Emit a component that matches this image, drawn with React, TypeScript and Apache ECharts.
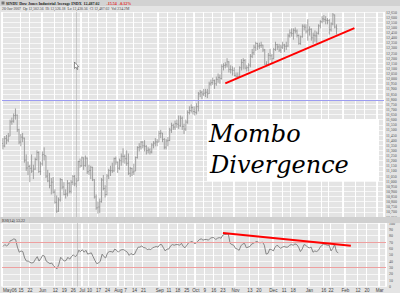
import React, { useEffect, useRef } from "react";
import * as echarts from "echarts";

// ---- calendar of the category axis (trading days) ----
const axisStartUTC = [2006, 4, 1];
const axisEndUTC = [2007, 2, 6];
const marketHolidays = [
  "2006-05-29", "2006-07-04", "2006-09-04", "2006-11-23", "2006-12-25",
  "2007-01-01", "2007-01-02", "2007-01-15", "2007-02-19",
];
const monthNames = ["Jan", "Feb", "Mar", "Apr", "May", "Jun", "Jul", "Aug", "Sep", "Oct", "Nov", "Dec"];
const firstMonthLabel = "May06";

// ---- daily bars: [open, high, low, close] ----
const ohlc: number[][] = [
  [11367, 11420, 11310, 11343], [11343, 11440, 11330, 11416], [11416, 11450, 11360, 11400], [11400, 11470, 11380, 11439],
  [11439, 11600, 11439, 11578], [11578, 11620, 11550, 11585], [11585, 11660, 11570, 11640], [11640, 11709, 11600, 11643],
  [11643, 11650, 11480, 11501], [11501, 11510, 11360, 11381], [11381, 11460, 11340, 11429], [11429, 11470, 11380, 11420],
  [11420, 11425, 11180, 11205], [11205, 11260, 11100, 11128], [11128, 11190, 11060, 11144], [11144, 11160, 10990, 11124],
  [11124, 11260, 11080, 11097], [11097, 11160, 11020, 11117], [11117, 11230, 11110, 11211], [11211, 11300, 11200, 11279],
  [11279, 11290, 11080, 11094], [11094, 11190, 11060, 11168],
  [11168, 11290, 11150, 11260], [11260, 11330, 11200, 11248], [11248, 11250, 11030, 11049], [11049, 11110, 10990, 11002],
  [11002, 11080, 10930, 10957], [10957, 11030, 10870, 10990], [10990, 11040, 10880, 10892], [10892, 10920, 10780, 10793],
  [10793, 10860, 10690, 10706], [10706, 10840, 10700, 10817], [10817, 11030, 10800, 11015], [11015, 11020, 10920, 10942],
  [10942, 10990, 10860, 10870], [10870, 10920, 10830, 10875], [10875, 11010, 10850, 10979], [10979, 10990, 10880, 10900],
  [10900, 11010, 10880, 10989], [10989, 11060, 10960, 11045], [11045, 11060, 10950, 10974], [10974, 11030, 10940, 11002],
  [11002, 11200, 11000, 11191], [11191, 11220, 11130, 11150],
  [11150, 11240, 11140, 11228], [11228, 11230, 11110, 11151], [11151, 11250, 11140, 11225], [11225, 11230, 11070, 11091],
  [11091, 11160, 11060, 11104], [11104, 11150, 11020, 11135], [11135, 11140, 11000, 11013], [11013, 11020, 10830, 10846],
  [10846, 10870, 10720, 10739], [10739, 10800, 10683, 10747], [10747, 10830, 10690, 10799], [10799, 11030, 10790, 11011],
  [11011, 11060, 10910, 10928], [10928, 10960, 10840, 10868], [10868, 11070, 10860, 11051], [11051, 11120, 11020, 11103],
  [11103, 11150, 11050, 11102], [11102, 11180, 11080, 11100], [11100, 11230, 11090, 11220], [11220, 11240, 11160, 11186],
  [11186, 11190, 11080, 11126], [11126, 11220, 11110, 11200], [11200, 11270, 11150, 11243], [11243, 11320, 11180, 11240],
  [11240, 11260, 11170, 11219], [11219, 11300, 11150, 11174], [11174, 11270, 11060, 11076], [11076, 11140, 11040, 11124],
  [11124, 11130, 11050, 11088], [11088, 11170, 11060, 11098], [11098, 11240, 11098, 11230], [11230, 11340, 11220, 11327],
  [11327, 11370, 11290, 11335], [11335, 11390, 11310, 11381], [11381, 11390, 11320, 11345], [11345, 11400, 11290, 11340],
  [11340, 11350, 11260, 11298], [11298, 11330, 11270, 11304], [11304, 11320, 11260, 11284], [11284, 11370, 11270, 11352],
  [11352, 11390, 11320, 11370], [11370, 11420, 11340, 11383], [11383, 11410, 11340, 11381],
  [11381, 11490, 11381, 11464], [11464, 11500, 11420, 11469], [11469, 11470, 11380, 11406], [11406, 11420, 11310, 11331],
  [11331, 11410, 11310, 11392], [11392, 11430, 11340, 11397], [11397, 11520, 11390, 11498], [11498, 11570, 11470, 11543],
  [11543, 11560, 11500, 11527], [11527, 11590, 11500, 11561], [11561, 11600, 11520, 11555], [11555, 11640, 11510, 11540],
  [11540, 11640, 11530, 11613], [11613, 11630, 11500, 11534], [11534, 11560, 11460, 11508], [11508, 11600, 11490, 11576],
  [11576, 11690, 11560, 11669], [11669, 11730, 11650, 11689], [11689, 11750, 11670, 11718], [11718, 11730, 11650, 11679],
  [11679, 11730, 11640, 11670], [11670, 11760, 11650, 11727], [11727, 11870, 11680, 11851], [11851, 11890, 11820, 11867],
  [11867, 11880, 11800, 11850], [11850, 11900, 11830, 11858], [11858, 11900, 11820, 11867], [11867, 11900, 11810, 11852],
  [11852, 11970, 11850, 11948], [11948, 11990, 11930, 11961], [11961, 12010, 11940, 11981], [11981, 11990, 11900, 11950],
  [11950, 12020, 11930, 11993], [11993, 12050, 11960, 12012], [12012, 12040, 11950, 12002], [12002, 12140, 11990, 12117],
  [12117, 12150, 12080, 12128], [12128, 12160, 12100, 12135], [12135, 12200, 12110, 12164], [12164, 12170, 12060, 12090],
  [12090, 12130, 12050, 12086], [12086, 12120, 12030, 12081],
  [12081, 12110, 12020, 12031], [12031, 12060, 12010, 12019], [12019, 12060, 12012, 12020], [12020, 12120, 12015, 12106],
  [12106, 12190, 12080, 12157], [12157, 12200, 12090, 12177], [12177, 12190, 12090, 12103], [12103, 12130, 12070, 12108],
  [12108, 12150, 12070, 12132], [12132, 12240, 12110, 12218], [12218, 12290, 12200, 12252], [12252, 12330, 12230, 12306],
  [12306, 12360, 12270, 12343], [12343, 12350, 12280, 12317], [12317, 12350, 12290, 12322], [12322, 12360, 12300, 12327],
  [12327, 12330, 12260, 12280], [12280, 12290, 12135, 12140], [12140, 12170, 12128, 12136], [12136, 12250, 12130, 12227],
  [12227, 12290, 12180, 12222],
  [12222, 12240, 12150, 12194], [12194, 12300, 12190, 12284], [12284, 12360, 12270, 12332], [12332, 12340, 12280, 12309],
  [12309, 12340, 12260, 12278], [12278, 12330, 12250, 12307], [12307, 12360, 12290, 12328], [12328, 12340, 12260, 12316],
  [12316, 12360, 12280, 12318], [12318, 12440, 12310, 12417], [12417, 12480, 12400, 12446], [12446, 12490, 12410, 12441],
  [12441, 12490, 12380, 12471], [12471, 12500, 12440, 12464], [12464, 12480, 12400, 12421], [12421, 12430, 12330, 12343],
  [12343, 12420, 12330, 12408], [12408, 12530, 12400, 12511], [12511, 12530, 12470, 12502], [12502, 12530, 12440, 12463],
  [12463, 12580, 12370, 12475], [12475, 12510, 12420, 12481], [12481, 12490, 12370, 12398], [12398, 12450, 12340, 12423],
  [12423, 12470, 12360, 12417], [12417, 12460, 12350, 12442], [12442, 12530, 12430, 12515], [12515, 12570, 12490, 12556],
  [12556, 12610, 12540, 12583], [12583, 12620, 12550, 12577], [12577, 12610, 12530, 12568], [12568, 12590, 12530, 12566],
  [12566, 12580, 12430, 12477], [12477, 12550, 12460, 12534], [12534, 12640, 12520, 12622], [12622, 12625, 12490, 12503],
  [12503, 12530, 12430, 12487],
];

// ---- RSI(14) readings ----
const rsi14: number[] = [
  63, 66, 64, 66, 72, 73, 75, 74, 62, 54, 56, 55, 45, 40, 40, 38, 37, 38, 43, 47,
  40, 44, 49, 48, 40, 38, 36, 37, 33, 30, 28, 35, 46, 43, 40, 41, 46, 43, 47, 50,
  47, 49, 57, 55, 58, 54, 57, 51, 52, 53, 47, 41, 36, 37, 40, 51, 47, 45, 53, 55,
  55, 54, 59, 57, 54, 57, 58, 58, 56, 54, 49, 52, 50, 51, 57, 62, 62, 64, 61, 61,
  58, 59, 58, 61, 62, 63, 62, 66, 66, 61, 56, 59, 59, 64, 66, 65, 66, 66, 65, 68,
  63, 61, 65, 69, 70, 71, 68, 68, 71, 74, 75, 73, 74, 74, 73, 76, 77, 77, 74, 76,
  77, 76, 81, 82, 82, 83, 68, 66, 65, 60, 59, 57, 64, 67, 68, 61, 62, 63, 67, 68,
  70, 71, 69, 69, 70, 65, 51, 52, 59, 58, 56, 62, 65, 63, 60, 62, 63, 62, 62, 65,
  66, 65, 67, 66, 62, 55, 59, 66, 65, 62, 61, 62, 54, 56, 55, 57, 62, 65, 67, 66,
  65, 65, 56, 60, 66, 55, 53,
];

// ---- axes, levels and annotations ----
const priceAxis = { min: 10650, max: 12650, step: 50 };
const rsiAxis = { min: 0, max: 100, step: 10 };
const resistanceLevel = 11790;
const rsiBands = [70, 30];
const priceTrend: [string, number][] = [["2006-10-25", 11954], ["2007-02-09", 12493]];
const rsiTrend: [string, number][] = [["2006-10-23", 84.4], ["2007-02-06", 64]];
const crosshairDay = "2006-06-28";
const titleText = "$INDU Dow Jones Industrial Average INDX  12,487.02";
const changeText = "-15.54  -0.12%";
const quoteText = "26-Jan-2007  Op 12,502.56  Hi 12,526.18  Lo 12,430.56  Cl 12,487.02  Vol 234.2M";
const rsiTitle = "RSI(14) 53.22";
const noteLines = ["Mombo", "Divergence"];

function tradingDays(): string[] {
  const out: string[] = [];
  const d = new Date(Date.UTC(axisStartUTC[0], axisStartUTC[1], axisStartUTC[2]));
  const end = Date.UTC(axisEndUTC[0], axisEndUTC[1], axisEndUTC[2]);
  while (d.getTime() <= end) {
    const wd = d.getUTCDay();
    const s = d.toISOString().slice(0, 10);
    if (wd !== 0 && wd !== 6 && !marketHolidays.includes(s)) out.push(s);
    d.setUTCDate(d.getUTCDate() + 1);
  }
  return out;
}

export default function App() {
  const ref = useRef<HTMLDivElement>(null);

  useEffect(() => {
    if (!ref.current) return;
    const chart = echarts.init(ref.current, undefined, { renderer: "svg" });

    const days = tradingDays();
    const wday = (s: string) => new Date(s + "T00:00:00Z").getUTCDay();
    const monthStart = new Set<number>();
    days.forEach((s, i) => {
      if (i === 0 || s.slice(5, 7) !== days[i - 1].slice(5, 7)) monthStart.add(i);
    });
    const labels: string[] = days.map((s, i) => {
      if (monthStart.has(i)) return i === 0 ? firstMonthLabel : monthNames[Number(s.slice(5, 7)) - 1];
      const weekStart = wday(s) <= wday(days[i - 1]);
      if (!weekStart || i < 7) return "";
      for (let j = i - 3; j <= i + 4; j++) if (monthStart.has(j)) return "";
      return String(Number(s.slice(8, 10)));
    });

    const priceGrid = { left: 2, top: 12, width: 384, height: 205 };
    const rsiGrid = { left: 2, top: 223, width: 384, height: 64 };
    const white = "#ffffff";
    const noLine = { show: false };

    const catAxis = (gridIndex: number, extra: any) => ({
      type: "category",
      gridIndex,
      data: days,
      boundaryGap: true,
      axisLine: noLine,
      axisTick: noLine,
      ...extra,
    });

    const barData = ohlc.map((r, i) => [i, r[0], r[1], r[2], r[3]]);

    const option: any = {
      animation: false,
      backgroundColor: "#e4e4e4",
      grid: [priceGrid, rsiGrid],
      xAxis: [
        catAxis(0, {
          axisLabel: { show: false },
          splitLine: { show: true, interval: (i: number) => !!labels[i], lineStyle: { color: white, width: 1 } },
        }),
        catAxis(0, {
          position: "top",
          axisLabel: { show: false },
          splitLine: { show: true, interval: (i: number) => monthStart.has(i), lineStyle: { color: white, width: 1.8 } },
        }),
        catAxis(1, {
          axisLabel: {
            show: true,
            interval: (i: number) => !!labels[i],
            formatter: (_v: string, i: number) => labels[i],
            showMinLabel: true,
            hideOverlap: false,
            fontSize: 4.6,
            fontFamily: "Liberation Sans",
            color: "#444",
            margin: 1.5,
            align: "center",
            alignMinLabel: "left",
          },
          splitLine: { show: true, interval: (i: number) => !!labels[i], lineStyle: { color: white, width: 1 } },
        }),
        catAxis(1, {
          position: "top",
          axisLabel: { show: false },
          splitLine: { show: true, interval: (i: number) => monthStart.has(i), lineStyle: { color: white, width: 1.8 } },
        }),
      ],
      yAxis: [
        {
          type: "value",
          gridIndex: 0,
          position: "right",
          min: priceAxis.min,
          max: priceAxis.max,
          interval: priceAxis.step,
          axisLine: noLine,
          axisTick: noLine,
          axisLabel: {
            fontSize: 4,
            fontFamily: "Liberation Sans Narrow",
            color: "#555",
            margin: 2,
            formatter: (v: number) => v.toLocaleString("en-US"),
          },
          splitLine: { lineStyle: { color: "#fbfbfb", width: 0.8 } },
        },
        {
          type: "value",
          gridIndex: 1,
          position: "right",
          min: rsiAxis.min,
          max: rsiAxis.max,
          interval: rsiAxis.step,
          axisLine: noLine,
          axisTick: noLine,
          axisLabel: { fontSize: 4, fontFamily: "Liberation Sans Narrow", color: "#555", margin: 3 },
          splitLine: { lineStyle: { color: "#fbfbfb", width: 0.8 } },
        },
      ],
      series: [
        {
          type: "custom",
          name: "INDU",
          xAxisIndex: 0,
          yAxisIndex: 0,
          data: barData,
          encode: { x: 0, y: [1, 2, 3, 4] },
          clip: true,
          renderItem: (_p: any, api: any) => {
            const i = api.value(0);
            const o = api.coord([i, api.value(1)]);
            const h = api.coord([i, api.value(2)]);
            const l = api.coord([i, api.value(3)]);
            const c = api.coord([i, api.value(4)]);
            const x = h[0];
            const w = 0.8;
            const st = () => ({ stroke: "#8e8e8e", lineWidth: 0.8 });
            return {
              type: "group",
              children: [
                { type: "line", shape: { x1: x, y1: h[1], x2: x, y2: l[1] }, style: st() },
                { type: "line", shape: { x1: x - w, y1: o[1], x2: x, y2: o[1] }, style: st() },
                { type: "line", shape: { x1: x, y1: c[1], x2: x + w, y2: c[1] }, style: st() },
              ],
            };
          },
          markLine: {
            silent: true,
            symbol: "none",
            label: { show: false },
            data: [
              { yAxis: resistanceLevel, lineStyle: { color: "#9c9cf0", width: 1, type: "solid" } },
              { xAxis: crosshairDay, lineStyle: { color: "#b0b0b0", width: 0.6, type: "solid" } },
              [
                { coord: priceTrend[0], lineStyle: { color: "#ff0000", width: 2, type: "solid" } },
                { coord: priceTrend[1] },
              ],
            ],
          },
        },
        {
          type: "line",
          name: "RSI(14)",
          xAxisIndex: 2,
          yAxisIndex: 1,
          data: rsi14,
          showSymbol: false,
          symbol: "none",
          lineStyle: { color: "#7a7a7a", width: 0.9 },
          markLine: {
            silent: true,
            symbol: "none",
            label: { show: false },
            data: [
              ...rsiBands.map((b) => ({ yAxis: b, lineStyle: { color: "#eea0a0", width: 1, type: "solid" } })),
              { xAxis: crosshairDay, lineStyle: { color: "#b0b0b0", width: 0.6, type: "solid" } },
              [
                { coord: rsiTrend[0], lineStyle: { color: "#ff0000", width: 2, type: "solid" } },
                { coord: rsiTrend[1] },
              ],
            ],
          },
        },
      ],
      graphic: [
        { type: "rect", shape: { x: 0, y: 0, width: 400, height: 6 }, style: { fill: "#d2d2d2" }, z: 50 },
        { type: "rect", shape: { x: 1.5, y: 1.5, width: 3, height: 3 }, style: { fill: "#777" }, z: 51 },
        {
          type: "text",
          x: 6,
          y: 3.2,
          z: 51,
          style: {
            text: `{a|${titleText}}  {b|${changeText}}`,
            verticalAlign: "middle",
            rich: {
              a: { fontSize: 4, fontFamily: "Liberation Sans Narrow", fill: "#222", fontWeight: "bold" },
              b: { fontSize: 4, fontFamily: "Liberation Sans Narrow", fill: "#e02020", fontWeight: "bold" },
            },
          },
        },
        {
          type: "text",
          x: 2,
          y: 9,
          z: 51,
          style: { text: quoteText, fontSize: 3.8, fontFamily: "Liberation Sans Narrow", fill: "#444", verticalAlign: "middle" },
        },
        { type: "rect", shape: { x: 0, y: 217, width: 400, height: 6 }, style: { fill: "#d0d0d0" }, z: 50 },
        {
          type: "text",
          x: 2,
          y: 220,
          z: 51,
          style: { text: rsiTitle, fontSize: 4, fontFamily: "Liberation Sans Narrow", fill: "#333", verticalAlign: "middle" },
        },
        { type: "rect", shape: { x: 207, y: 119, width: 172, height: 62 }, style: { fill: "#ffffff" }, z: 60 },
        {
          type: "text",
          x: 209,
          y: 134,
          z: 61,
          style: { text: noteLines[0], fontSize: 24, fontFamily: "DejaVu Serif", fontStyle: "italic", fill: "#000", verticalAlign: "middle" },
        },
        {
          type: "text",
          x: 210,
          y: 164.5,
          z: 61,
          style: { text: noteLines[1], fontSize: 24, fontFamily: "DejaVu Serif", fontStyle: "italic", fill: "#000", verticalAlign: "middle" },
        },
        {
          type: "polygon",
          z: 55,
          shape: { points: [[74.5, 62], [74.5, 68.5], [76, 67.2], [77.2, 69.5], [78, 69.1], [76.9, 66.9], [78.6, 66.7]] },
          style: { fill: "#ffffff", stroke: "#333", lineWidth: 0.5 },
        },
      ],
    };

    chart.setOption(option);
    return () => chart.dispose();
  }, []);

  return <div ref={ref} style={{ position: "fixed", left: 0, top: 0, width: 400, height: 293 }} />;
}
